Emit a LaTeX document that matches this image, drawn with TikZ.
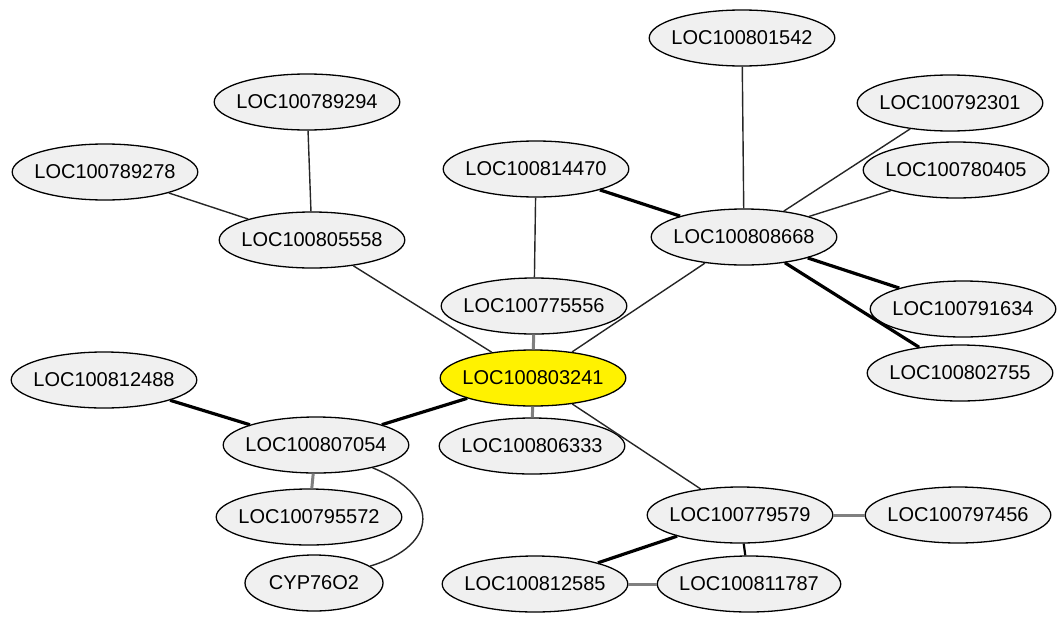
\documentclass[tikz,border=0pt]{standalone}
\usepackage{fontspec}
\setmainfont{Liberation Sans}
\usetikzlibrary{shapes.geometric}
\definecolor{nodefill}{HTML}{F0F0F0}
\definecolor{edgegray}{HTML}{808080}
\tikzset{
  gene/.style={ellipse, draw=black, line width=1.3pt, fill=nodefill, minimum width=138pt, minimum height=56pt, inner xsep=-5pt, inner ysep=0pt, font=\fontsize{20}{24}\selectfont},
  hub/.style={gene, fill=yellow},
  thin/.style={draw=black!85, line width=1.4pt},
  thick/.style={draw=black, line width=3.2pt},
  grayedge/.style={draw=edgegray, line width=3pt},
}
\begin{document}
\begin{tikzpicture}[x=1pt,y=-1pt]
\useasboundingbox (0,0) rectangle (1062,616);
\node[gene] (n801542) at (742,38) {LOC100801542};
\node[gene] (n789294) at (307,102) {LOC100789294};
\node[gene] (n792301) at (950,103) {LOC100792301};
\node[gene] (n789278) at (105,172) {LOC100789278};
\node[gene] (n814470) at (536,169) {LOC100814470};
\node[gene] (n780405) at (956,170) {LOC100780405};
\node[gene] (n805558) at (312,240) {LOC100805558};
\node[gene] (n808668) at (744,237) {LOC100808668};
\node[gene] (n775556) at (534,306) {LOC100775556};
\node[gene] (n791634) at (963,309) {LOC100791634};
\node[hub]  (n803241) at (533,378) {LOC100803241};
\node[gene] (n812488) at (104,380) {LOC100812488};
\node[gene] (n802755) at (960,373) {LOC100802755};
\node[gene] (n807054) at (316,445) {LOC100807054};
\node[gene] (n806333) at (532,446) {LOC100806333};
\node[gene] (n795572) at (309,517) {LOC100795572};
\node[gene] (n779579) at (740,515) {LOC100779579};
\node[gene] (n797456) at (958,515) {LOC100797456};
\node[gene] (cyp) at (314,583) {CYP76O2};
\node[gene] (n812585) at (535,584) {LOC100812585};
\node[gene] (n811787) at (749,584) {LOC100811787};

\draw[thin] (n805558) -- (n789294);
\draw[thin] (n805558) -- (n789278);
\draw[thin] (n805558) -- (n803241);
\draw[thin] (n814470) -- (n775556);
\draw[grayedge] (n775556) -- (n803241);
\draw[thick] (n814470) -- (n808668);
\draw[thin] (n801542) -- (n808668);
\draw[thin] (n792301) -- (n808668);
\draw[thin] (n780405) -- (n808668);
\draw[thick] (n808668) -- (n791634);
\draw[thick] (n808668) -- (n802755);
\draw[thin] (n808668) -- (n803241);
\draw[thick] (n812488) -- (n807054);
\draw[thick] (n807054) -- (n803241);
\draw[grayedge] (n807054) -- (n795572);
\draw[thin] (n807054) .. controls (440,495) and (440,545) .. (cyp);
\draw[thin] (n803241) -- (n779579);
\draw[grayedge] (n803241) -- (n806333);
\draw[grayedge] (n779579) -- (n797456);
\draw[thick] (n779579) -- (n812585);
\draw[thick, line width=2.2pt] (n779579) -- (n811787);
\draw[grayedge] (n812585) -- (n811787);
\end{tikzpicture}
\end{document}
